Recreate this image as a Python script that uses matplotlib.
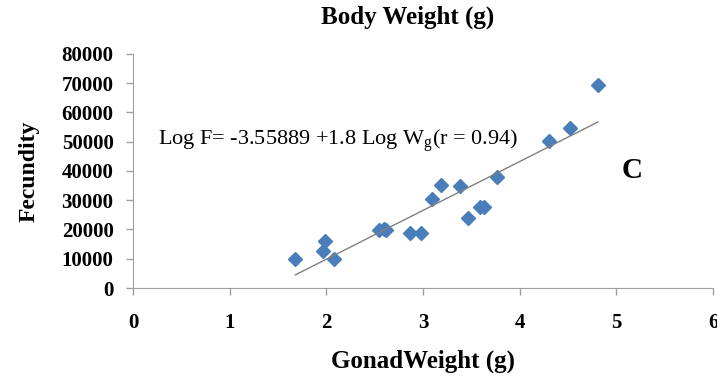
import numpy as np
import matplotlib.pyplot as plt

# gonad weight (g) and fecundity
gonad_wt = [1.68, 1.97, 1.99, 2.08, 2.54, 2.60, 2.62, 2.87, 2.98, 3.09,
            3.19, 3.38, 3.46, 3.59, 3.63, 3.76, 4.30, 4.52, 4.81]
fecundity = [9800, 12700, 16100, 9800, 19900, 20200, 19900, 18900, 18900, 30500,
             35300, 34700, 24100, 27800, 27600, 37900, 50300, 54700, 69500]

x_ticks = [0, 1, 2, 3, 4, 5, 6]
y_ticks = [0, 10000, 20000, 30000, 40000, 50000, 60000, 70000, 80000]

eq_text = "Log F= -3.55889 +1.8 Log W$_\\mathrm{g}$(r = 0.94)"

plt.rcParams['font.family'] = 'Liberation Serif'
plt.rcParams['mathtext.fontset'] = 'custom'
plt.rcParams['mathtext.rm'] = 'Liberation Serif'

fig = plt.figure(figsize=(7.17, 3.77), dpi=100)
ax = fig.add_axes([0.1855, 0.236, 0.809, 0.621])

ax.plot(gonad_wt, fecundity, 'D', color='#4a7ebb', ms=7.5, mec='#4a7ebb')

# linear trend line over the data range
k, b = np.polyfit(gonad_wt, fecundity, 1)
xs = np.array([min(gonad_wt), max(gonad_wt)])
ax.plot(xs, k*xs + b, color='#808080', lw=1)

ax.set_xlim(0, 6)
ax.set_ylim(0, 80000)
ax.set_xticks(x_ticks)
ax.set_yticks(y_ticks)
ax.set_xticklabels([str(v) for v in x_ticks], fontweight='bold', fontsize=15)
ax.set_yticklabels([str(v) for v in y_ticks], fontweight='bold', fontsize=15)
ax.tick_params(axis='both', direction='out', length=5, color='#a0a0a0', width=1)
ax.tick_params(axis='x', pad=13)
ax.tick_params(axis='y', pad=9)

for s in ['top', 'right']:
    ax.spines[s].set_visible(False)
for s in ['left', 'bottom']:
    ax.spines[s].set_color('#a0a0a0')

ax.set_xlabel('GonadWeight (g)', fontweight='bold', fontsize=18, labelpad=12)
ax.set_ylabel('Fecundity', fontweight='bold', fontsize=17, labelpad=16)
fig.text(0.568, 0.953, 'Body Weight (g)', fontweight='bold', fontsize=18,
         ha='center', va='center')

ax.text(0.043, 0.625, eq_text, transform=ax.transAxes, fontsize=16,
        ha='left', va='center')
ax.text(0.86, 0.50, 'C', transform=ax.transAxes, fontsize=21,
        fontweight='bold', ha='center', va='center')

plt.savefig('out.png', dpi=100)
